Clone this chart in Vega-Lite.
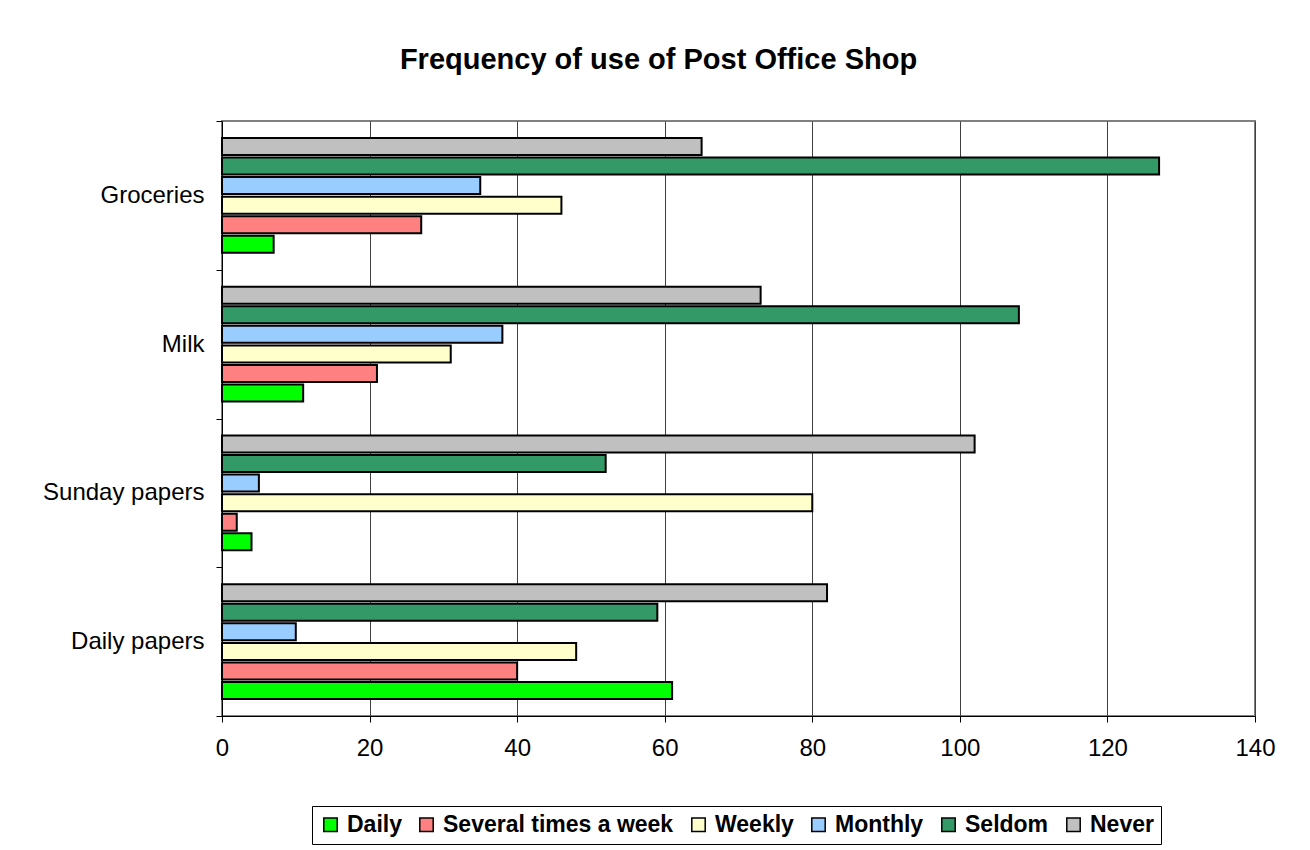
{
  "$schema": "https://vega.github.io/schema/vega-lite/v6.json",
  "width": 1033,
  "height": 595,
  "autosize": {"type": "none"},
  "padding": {"left": 222, "top": 121, "right": 55, "bottom": 134},
  "background": "white",
  "title": {
    "text": "Frequency of use of Post Office Shop",
    "font": "Liberation Sans",
    "fontSize": 29,
    "fontWeight": "bold",
    "color": "black",
    "anchor": "middle",
    "dx": -80,
    "offset": 34
  },
  "data": {
    "values": [
      {"item": "Groceries", "freq": "Daily", "count": 7},
      {"item": "Groceries", "freq": "Several times a week", "count": 27},
      {"item": "Groceries", "freq": "Weekly", "count": 46},
      {"item": "Groceries", "freq": "Monthly", "count": 35},
      {"item": "Groceries", "freq": "Seldom", "count": 127},
      {"item": "Groceries", "freq": "Never", "count": 65},
      {"item": "Milk", "freq": "Daily", "count": 11},
      {"item": "Milk", "freq": "Several times a week", "count": 21},
      {"item": "Milk", "freq": "Weekly", "count": 31},
      {"item": "Milk", "freq": "Monthly", "count": 38},
      {"item": "Milk", "freq": "Seldom", "count": 108},
      {"item": "Milk", "freq": "Never", "count": 73},
      {"item": "Sunday papers", "freq": "Daily", "count": 4},
      {"item": "Sunday papers", "freq": "Several times a week", "count": 2},
      {"item": "Sunday papers", "freq": "Weekly", "count": 80},
      {"item": "Sunday papers", "freq": "Monthly", "count": 5},
      {"item": "Sunday papers", "freq": "Seldom", "count": 52},
      {"item": "Sunday papers", "freq": "Never", "count": 102},
      {"item": "Daily papers", "freq": "Daily", "count": 61},
      {"item": "Daily papers", "freq": "Several times a week", "count": 40},
      {"item": "Daily papers", "freq": "Weekly", "count": 48},
      {"item": "Daily papers", "freq": "Monthly", "count": 10},
      {"item": "Daily papers", "freq": "Seldom", "count": 59},
      {"item": "Daily papers", "freq": "Never", "count": 82}
    ]
  },
  "mark": {"type": "bar", "stroke": "black", "strokeWidth": 2},
  "encoding": {
    "y": {
      "field": "item",
      "type": "nominal",
      "sort": ["Groceries", "Milk", "Sunday papers", "Daily papers"],
      "scale": {"paddingInner": 0, "paddingOuter": 0},
      "axis": {
        "title": null,
        "tickBand": "extent",
        "tickSize": 6,
        "tickColor": "black",
        "domainColor": "black",
        "labelPadding": 12,
        "labelFont": "Liberation Sans",
        "labelFontSize": 24,
        "labelColor": "black",
        "labelLimit": 300,
        "grid": false
      }
    },
    "yOffset": {
      "field": "freq",
      "type": "nominal",
      "sort": ["Never", "Seldom", "Monthly", "Weekly", "Several times a week", "Daily"],
      "scale": {"paddingInner": 0.13, "paddingOuter": 0.87}
    },
    "x": {
      "field": "count",
      "type": "quantitative",
      "scale": {"domain": [0, 140], "nice": false},
      "axis": {
        "title": null,
        "values": [0, 20, 40, 60, 80, 100, 120, 140],
        "tickSize": 6,
        "tickColor": "black",
        "domainColor": "black",
        "labelPadding": 14,
        "labelFlush": false,
        "labelFont": "Liberation Sans",
        "labelFontSize": 24,
        "labelColor": "black",
        "grid": true,
        "gridColor": "#404040",
        "gridWidth": 1
      }
    },
    "color": {
      "field": "freq",
      "type": "nominal",
      "scale": {
        "domain": ["Daily", "Several times a week", "Weekly", "Monthly", "Seldom", "Never"],
        "range": ["#00FF00", "#FF8080", "#FFFFCC", "#99CCFF", "#339966", "#C0C0C0"]
      },
      "legend": {
        "title": null,
        "orient": "none",
        "legendX": 90,
        "legendY": 685,
        "direction": "horizontal",
        "columns": 6,
        "symbolType": "square",
        "symbolSize": 180,
        "symbolStrokeColor": "black",
        "symbolStrokeWidth": 1.5,
        "labelFont": "Liberation Sans",
        "labelFontSize": 23,
        "labelFontWeight": "bold",
        "labelColor": "black",
        "columnPadding": 13,
        "labelOffset": 5,
        "padding": 7,
        "strokeColor": "black",
        "fillColor": "white",
        "labelLimit": 400
      }
    }
  },
  "config": {
    "view": {"stroke": "#808080", "strokeWidth": 2}
  }
}
